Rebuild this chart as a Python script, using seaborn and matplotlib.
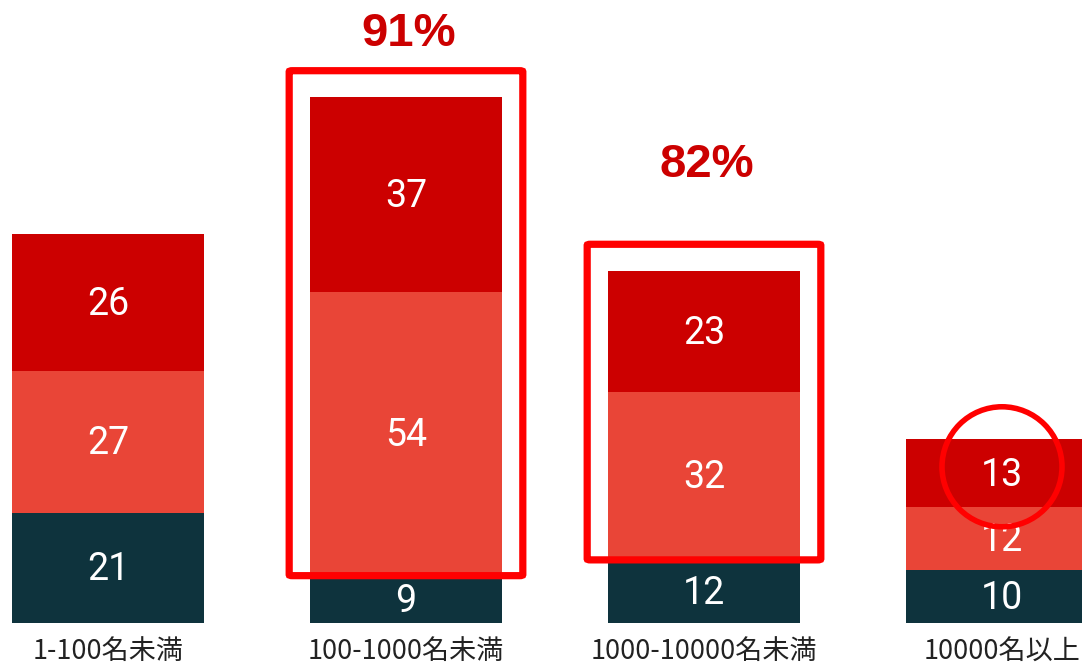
import numpy as np
import pandas as pd
import seaborn as sns
import matplotlib.pyplot as plt
from matplotlib.patches import FancyBboxPatch, Ellipse

# data
categories = ['1-100名未満', '100-1000名未満', '1000-10000名未満', '10000名以上']
bottom_vals = [21, 9, 12, 10]
middle_vals = [27, 54, 32, 12]
top_vals = [26, 37, 23, 13]

c_bottom = '#0e333d'
c_middle = '#e94537'
c_top = '#cc0000'
c_mark = '#ff0000'

df = pd.DataFrame({'cat': categories, 'b': bottom_vals, 'm': middle_vals, 't': top_vals})
df['bm'] = df['b'] + df['m']
df['total'] = df['bm'] + df['t']

sns.set_style('white')
plt.rcParams['font.family'] = ['Noto Sans CJK JP', 'DejaVu Sans']

fig = plt.figure(figsize=(10.82, 6.70), dpi=100)
ax = fig.add_axes([0, 47 / 670, 1, 623 / 670])

w = 0.644
# stacked via overlaid cumulative bars
sns.barplot(data=df, x='cat', y='total', color=c_top, width=w, saturation=1, ax=ax)
sns.barplot(data=df, x='cat', y='bm', color=c_middle, width=w, saturation=1, ax=ax)
sns.barplot(data=df, x='cat', y='b', color=c_bottom, width=w, saturation=1, ax=ax)
for p in ax.patches:
    p.set_linewidth(0)

ax.set_xlim(-108 / 298, (1082 - 108) / 298)
ax.set_ylim(0, 623 / 5.26)

# segment labels
for i, row in df.iterrows():
    for lo, v in [(0, row['b']), (row['b'], row['m']), (row['bm'], row['t'])]:
        ax.text(i, lo + v / 2 - 0.4, str(v), ha='center', va='center', color='white',
                fontsize=27, family=['Roboto', 'DejaVu Sans'])

# highlight boxes around red segments
for i, dy_text in [(1, 7), (2, 15)]:
    row = df.iloc[i]
    pad_x = 0.07
    y0 = row['b']
    y1 = row['total'] + 5
    box = FancyBboxPatch((i - w / 2 - pad_x, y0), w + 2 * pad_x, y1 - y0,
                         boxstyle='round,pad=0,rounding_size=0.01', fill=False,
                         edgecolor=c_mark, linewidth=5.2, clip_on=False, zorder=5,
                         mutation_aspect=20)
    ax.add_patch(box)
    pct = round(100 * (row['m'] + row['t']) / row['total'])
    ax.text(i + 0.01, y1 + dy_text, f'{pct}%', ha='center', va='center', color=c_top,
            fontsize=34, fontweight='bold', family=['Liberation Sans', 'DejaVu Sans'])

# circle around last top value
row = df.iloc[3]
ax.add_artist(Ellipse((3, row['bm'] + row['t'] / 2 + 1.2), 120 / 298, 120 / 5.26,
                      fill=False, edgecolor=c_mark, linewidth=4, zorder=5))

ax.set_xlabel('')
ax.set_ylabel('')
ax.set_yticks([])
ax.tick_params(axis='x', length=0, pad=11, labelsize=19.5, labelcolor='#222222')
sns.despine(ax=ax, left=True, bottom=True)

fig.savefig('out.png', dpi=100)
